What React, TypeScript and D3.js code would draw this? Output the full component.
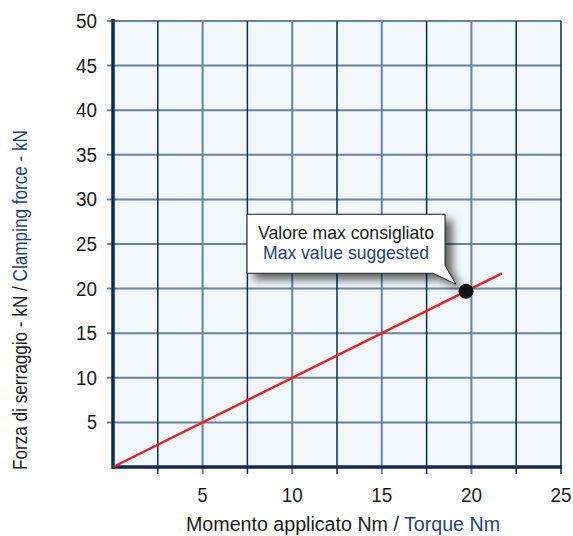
import React from "react";
import * as d3 from "d3";

const xTicks = [5, 10, 15, 20, 25];
const yTicks = [5, 10, 15, 20, 25, 30, 35, 40, 45, 50];
const xGrid = [2.5, 5, 7.5, 10, 12.5, 15, 17.5, 20, 22.5];
const lineX = [0, 21.7];
const lineY = [0, 21.7];
const pointX = [19.7];
const pointY = [19.7];
const calloutLine1 = "Valore max consigliato";
const calloutLine2 = "Max value suggested";
const yLabelA = "Forza di serraggio - kN / ";
const yLabelB = "Clamping force - kN";
const xLabelA = "Momento applicato Nm / ";
const xLabelB = "Torque Nm";

const W = 573, H = 536;
const left = 113, right = 561, top = 21, bottom = 467;
const FONT = "'Liberation Sans Narrow', 'Arial Narrow', 'Liberation Sans', sans-serif";
const NAVY = "#0c2a52";
const GREY = "#6c81a0";
const BLUE = "#1d4478";

export default function App() {
  const x = d3.scaleLinear().domain([0, 25]).range([left, right]);
  const y = d3.scaleLinear().domain([0, 50]).range([bottom, top]);
  const pts: [number, number][] = lineX.map((v, i) => [v, lineY[i]]);
  const line = d3.line<[number, number]>().x(d => x(d[0])).y(d => y(d[1]));
  const px = x(pointX[0]), py = y(pointY[0]);

  const bx0 = px - 219, bx1 = px - 21, by0 = py - 77, by1 = py - 18;
  const calloutPath = `M${bx0},${by0} L${bx1},${by0} L${bx1},${by1 - 8} L${px - 10},${py - 7} L${bx1 - 12},${by1} L${bx0},${by1} Z`;
  const cx = (bx0 + bx1) / 2;

  return (
    <svg width={W} height={H} style={{ display: "block", position: "absolute", left: 0, top: 0 }}>
      <defs>
        <filter id="sh" x="-20%" y="-30%" width="150%" height="180%">
          <feDropShadow dx="7" dy="6" stdDeviation="4" floodColor="#000" floodOpacity="0.6" />
        </filter>
      </defs>
      <rect x={left} y={top} width={right - left} height={bottom - top} fill="#f1f8fc" />
      {yTicks.map(t => (
        <line key={"hy" + t} x1={left - 6} x2={right} y1={y(t)} y2={y(t)} stroke={GREY} strokeWidth={2} />
      ))}
      {xGrid.map(t => (
        <line key={"vx" + t} x1={x(t)} x2={x(t)} y1={top} y2={bottom + 7}
          stroke={t % 5 === 0 ? GREY : NAVY} strokeWidth={t % 5 === 0 ? 2 : 1.5} />
      ))}
      <line x1={right} x2={right} y1={top} y2={bottom + 7} stroke={NAVY} strokeWidth={1.5} />
      <line x1={left} x2={left} y1={top - 2} y2={bottom + 2} stroke={NAVY} strokeWidth={3.5} />
      <line x1={left - 1} x2={right + 1} y1={bottom} y2={bottom} stroke={NAVY} strokeWidth={3.5} />
      <path d={line(pts) || ""} fill="none" stroke="#e8212a" strokeWidth={2.5} />
      <circle cx={px} cy={py} r={7.5} fill="#111" />
      <path d={calloutPath} fill="#fff" stroke="#222" strokeWidth={1} filter="url(#sh)" />
      <text x={cx} y={by0 + 25} textAnchor="middle" fontFamily={FONT} fontSize={19} fill="#1a1a1a"
        textLength={176} lengthAdjust="spacingAndGlyphs">{calloutLine1}</text>
      <text x={cx} y={by0 + 45} textAnchor="middle" fontFamily={FONT} fontSize={19} fill={BLUE}
        textLength={166} lengthAdjust="spacingAndGlyphs">{calloutLine2}</text>
      {yTicks.map(t => (
        <text key={"ty" + t} x={left - 16} y={y(t) + 7} textAnchor="end" fontFamily={FONT} fontSize={20} fill="#1a1a1a"
          textLength={t < 10 ? 10 : 21} lengthAdjust="spacingAndGlyphs">{t}</text>
      ))}
      {xTicks.map(t => (
        <text key={"tx" + t} x={x(t)} y={bottom + 35} textAnchor="middle" fontFamily={FONT} fontSize={20} fill="#1a1a1a"
          textLength={t < 10 ? 10 : 21} lengthAdjust="spacingAndGlyphs">{t}</text>
      ))}
      <text x={343} y={531} textAnchor="middle" fontFamily={FONT} fontSize={20} fill="#1a1a1a"
        textLength={314} lengthAdjust="spacingAndGlyphs">
        {xLabelA}<tspan fill={BLUE}>{xLabelB}</tspan>
      </text>
      <text transform={`translate(27,300) rotate(-90)`} textAnchor="middle" fontFamily={FONT} fontSize={20} fill="#1a1a1a"
        textLength={340} lengthAdjust="spacingAndGlyphs">
        {yLabelA}<tspan fill={BLUE}>{yLabelB}</tspan>
      </text>
    </svg>
  );
}
